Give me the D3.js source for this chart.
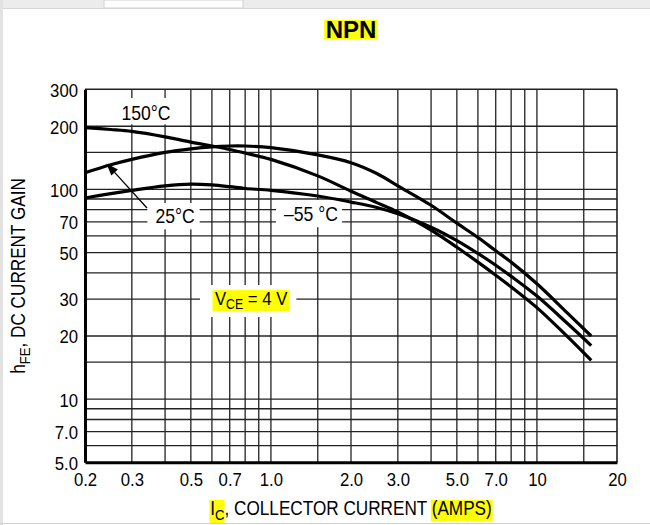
<!DOCTYPE html>
<html><head><meta charset="utf-8">
<script src="https://cdn.jsdelivr.net/npm/d3@7"></script>
<style>
html,body{margin:0;padding:0;background:#fff;}
svg{display:block;}
</style></head><body>
<script>
// ---- data ----
const currents = [0.2, 0.25, 0.3, 0.4, 0.5, 0.6, 0.7, 0.8, 1.0, 1.5, 2.0, 2.5, 3.0, 4.0, 5.0, 6.0, 7.0, 8.0, 10, 13, 16];
const gain150 = [197, 193, 189, 178, 168, 161, 155, 149, 139, 116, 98, 86.5, 78, 64, 53, 45, 39, 34.3, 27.3, 19.9, 15.3];
const gain25  = [120, 131, 139, 150, 156, 159.5, 161, 161, 158, 146, 134, 119, 104, 84, 69, 59, 51, 45, 35.5, 25.8, 20];
const gainM55 = [91, 95.5, 99, 104, 106, 105, 103, 101, 99, 93, 87, 82, 76.5, 66, 57, 49.5, 43.5, 38.5, 31, 23, 18];
const seriesNames = ["150°C", "25°C", "\u201355 °C"];

const xTickValues = [0.2, 0.3, 0.5, 0.7, 1, 2, 3, 5, 7, 10, 20];
const xTickLabels = ["0.2", "0.3", "0.5", "0.7", "1.0", "2.0", "3.0", "5.0", "7.0", "10", "20"];
const yTickValues = [300, 200, 100, 70, 50, 30, 20, 10, 7, 5];
const yTickLabels = ["300", "200", "100", "70", "50", "30", "20", "10", "7.0", "5.0"];
const xGridValues = [0.3, 0.4, 0.5, 0.6, 0.7, 0.8, 0.9, 1, 1.5, 2, 3, 4, 5, 6, 7, 8, 9, 10, 15];
const yGridValues = [6, 7, 8, 9, 10, 15, 20, 30, 40, 50, 60, 70, 80, 90, 100, 150, 200];

// annotation anchors in data units (amps, gain)
const label150 = [0.339, 214];
const label25 = [0.436, 69.1];
const labelM55 = [1.414, 70.7];
const labelVce = [0.616, 28.1];
const arrowTail = [0.342, 81.5];
const arrowTip = [0.241, 132.8];

// ---- layout ----
const W = 650, H = 525;
const M = {left: 85, right: 617, top: 89.3, bottom: 462.3};
const FONT = "'Liberation Sans',Arial,Helvetica,sans-serif";
const FS = 19;        // main text size
const SQ = 0.88;      // horizontal condensing of the Helvetica-narrow style lettering

const svg = d3.select("body").append("svg").attr("width", W).attr("height", H);

// page chrome
svg.append("rect").attr("x", 0).attr("y", 0).attr("width", W).attr("height", H).attr("fill", "#fff");
svg.append("rect").attr("x", 0).attr("y", 0).attr("width", W).attr("height", 8).attr("fill", "#ececec");
svg.append("rect").attr("x", 104).attr("y", 0).attr("width", 139).attr("height", 8).attr("fill", "#fff")
  .attr("stroke", "#d0d0d0").attr("stroke-width", 1);
svg.append("line").attr("x1", 0).attr("x2", W).attr("y1", 8.5).attr("y2", 8.5).attr("stroke", "#d6d6d6");
svg.append("rect").attr("x", 0).attr("y", 0).attr("width", 3).attr("height", H).attr("fill", "#e2e2e2");
svg.append("line").attr("x1", 0).attr("x2", W).attr("y1", 523.5).attr("y2", 523.5).attr("stroke", "#d0d0d0");

const x = d3.scaleLog().domain([0.2, 20]).range([M.left, M.right]);
const y = d3.scaleLog().domain([5, 300]).range([M.bottom, M.top]);

// layers
const gridLayer = svg.append("g");
const boxLayer = svg.append("g");
const curveLayer = svg.append("g");
const axisLayer = svg.append("g");
const textLayer = svg.append("g");

// grid
gridLayer.selectAll(".vg").data(xGridValues).enter().append("line")
  .attr("x1", d => x(d)).attr("x2", d => x(d)).attr("y1", M.top).attr("y2", M.bottom)
  .attr("stroke", "#222").attr("stroke-width", 1.3);
gridLayer.selectAll(".hg").data(yGridValues).enter().append("line")
  .attr("x1", M.left).attr("x2", M.right).attr("y1", d => y(d)).attr("y2", d => y(d))
  .attr("stroke", "#222").attr("stroke-width", 1.3);
gridLayer.append("line").attr("x1", M.left).attr("x2", M.right).attr("y1", M.top).attr("y2", M.top).attr("stroke", "#222").attr("stroke-width", 1.6);
gridLayer.append("line").attr("x1", M.right).attr("x2", M.right).attr("y1", M.top).attr("y2", M.bottom).attr("stroke", "#222").attr("stroke-width", 1.6);

// axes
const xAxis = d3.axisBottom(x).tickValues(xTickValues).tickFormat((d, i) => xTickLabels[i]).tickSize(0).tickPadding(10);
const yAxis = d3.axisLeft(y).tickValues(yTickValues).tickFormat((d, i) => yTickLabels[i]).tickSize(0).tickPadding(8);
const gx = axisLayer.append("g").attr("transform", `translate(0,${M.bottom})`).call(xAxis);
const gy = axisLayer.append("g").attr("transform", `translate(${M.left},0)`).call(yAxis);
[gx, gy].forEach(g => {
  g.select(".domain").attr("stroke", "#000").attr("stroke-width", 3);
  g.selectAll("text").attr("font-family", FONT).attr("font-size", FS).attr("fill", "#000")
    .attr("transform", `scale(${SQ},1)`);
});
gx.selectAll("text").attr("dy", "0.74em");
gy.selectAll("text").attr("dy", "0.36em");

// labels with white knock-out boxes
function addLabel(pos, txt, padL, padR, padT, padB) {
  const tr = `translate(${x(pos[0])},${y(pos[1])}) scale(${SQ},1)`;
  const g = textLayer.append("g").attr("transform", tr);
  const t = g.append("text").attr("text-anchor", "middle").attr("font-family", FONT)
    .attr("font-size", FS + 1).attr("fill", "#000").text(txt);
  const b = t.node().getBBox();
  boxLayer.append("g").attr("transform", tr).append("rect")
    .attr("x", b.x - padL / SQ).attr("y", b.y - padT)
    .attr("width", b.width + (padL + padR) / SQ).attr("height", b.height + padT + padB).attr("fill", "#fff");
}
addLabel(label150, seriesNames[0], 7, 2, 4, 0);
addLabel(label25, seriesNames[1], 8, 5, 2, 2);
addLabel(labelM55, seriesNames[2], 8, 4, 3, 2);

// VCE label
{
  const tr = `translate(${x(labelVce[0])},${y(labelVce[1])}) scale(${SQ},1)`;
  const g = textLayer.append("g").attr("transform", tr);
  const hl = g.append("g");
  const vt = g.append("text").attr("font-family", FONT).attr("font-size", FS).attr("fill", "#000");
  vt.append("tspan").text("V");
  vt.append("tspan").attr("font-size", 14).attr("dy", 4).text("CE");
  vt.append("tspan").attr("dy", -4).text(" = 4 V");
  const b = vt.node().getBBox();
  hl.append("rect").attr("x", b.x - 2.5 / SQ).attr("y", -15).attr("width", b.width + 5 / SQ).attr("height", 21).attr("fill", "#ffff00");
  boxLayer.append("g").attr("transform", tr).append("rect")
    .attr("x", b.x - 15 / SQ).attr("y", -20).attr("width", b.width + 24 / SQ).attr("height", 32).attr("fill", "#fff");
}

// curves
const line = d3.line().x(d => x(d[0])).y(d => y(d[1])).curve(d3.curveCatmullRom.alpha(0.5));
[gain150, gain25, gainM55].forEach(vals => {
  curveLayer.append("path").datum(currents.map((c, i) => [c, vals[i]]))
    .attr("d", line).attr("fill", "none").attr("stroke", "#000").attr("stroke-width", 3.2)
    .attr("stroke-linejoin", "round");
});

// arrow
{
  const x1 = x(arrowTail[0]), y1 = y(arrowTail[1]), x2 = x(arrowTip[0]), y2 = y(arrowTip[1]);
  const ang = Math.atan2(y2 - y1, x2 - x1);
  const L = 12, Wd = 4.5;
  const bx = x2 - L * Math.cos(ang), by = y2 - L * Math.sin(ang);
  textLayer.append("line").attr("x1", x1).attr("y1", y1).attr("x2", bx).attr("y2", by).attr("stroke", "#000").attr("stroke-width", 1.3);
  textLayer.append("path").attr("d", `M${x2},${y2}L${bx + Wd * Math.sin(ang)},${by - Wd * Math.cos(ang)}L${bx - Wd * Math.sin(ang)},${by + Wd * Math.cos(ang)}Z`).attr("fill", "#000");
}

// title
{
  const g = textLayer.append("g");
  const hl = g.append("g");
  const t = g.append("text").attr("x", (M.left + M.right) / 2).attr("y", 38).attr("text-anchor", "middle")
    .attr("font-family", FONT).attr("font-weight", "bold").attr("font-size", 24).attr("fill", "#000").text("NPN");
  const b = t.node().getBBox();
  hl.append("rect").attr("x", b.x - 1.5).attr("y", 20).attr("width", b.width + 3).attr("height", 19.5).attr("fill", "#ffff00");
}

// x axis title
{
  const g = textLayer.append("g").attr("transform", `translate(${(M.left + M.right) / 2},515) scale(${SQ},1)`);
  const hl = g.append("g");
  const t = g.append("text").attr("text-anchor", "middle")
    .attr("font-family", FONT).attr("font-size", FS + 0.5).attr("fill", "#000");
  t.append("tspan").text("I");
  t.append("tspan").attr("font-size", 15).attr("dy", 5).text("C");
  t.append("tspan").attr("dy", -5).text(", COLLECTOR CURRENT ");
  t.append("tspan").text("(AMPS)");
  const n = t.node();
  const s0 = n.getStartPositionOfChar(0).x, e1 = n.getEndPositionOfChar(1).x;
  const s2 = n.getStartPositionOfChar(22).x, e2 = n.getEndPositionOfChar(27).x;
  hl.append("rect").attr("x", s0 - 1).attr("y", -15).attr("width", e1 - s0 + 1).attr("height", 23).attr("fill", "#ffff00");
  hl.append("rect").attr("x", s2 - 1).attr("y", -15).attr("width", e2 - s2 + 2).attr("height", 21).attr("fill", "#ffff00");
}

// y axis title
{
  const t = textLayer.append("text").attr("transform", `translate(25,276) rotate(-90) scale(${SQ},1)`).attr("text-anchor", "middle")
    .attr("font-family", FONT).attr("font-size", FS + 0.5).attr("fill", "#000");
  t.append("tspan").text("h");
  t.append("tspan").attr("font-size", 15).attr("dy", 5).text("FE");
  t.append("tspan").attr("dy", -5).text(", DC CURRENT GAIN");
}
</script>
</body></html>
